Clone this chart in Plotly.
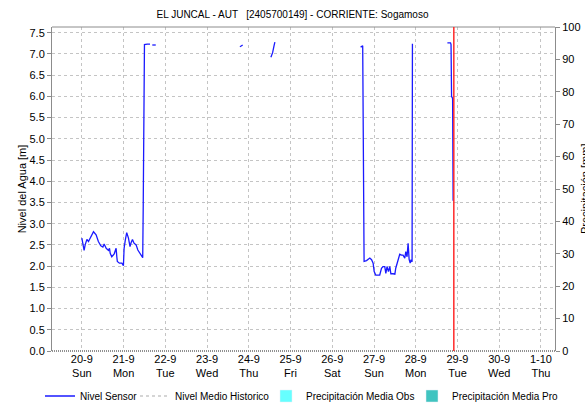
import plotly.graph_objects as go

# ---- data ----
sensor_time = [
    "2020-09-20 00:00", "2020-09-20 00:36", "2020-09-20 01:18", "2020-09-20 01:54",
    "2020-09-20 02:54", "2020-09-20 03:48", "2020-09-20 05:12", "2020-09-20 06:42",
    "2020-09-20 08:12", "2020-09-20 09:30", "2020-09-20 10:54", "2020-09-20 12:06",
    "2020-09-20 12:48", "2020-09-20 14:00", "2020-09-20 15:18", "2020-09-20 15:54",
    "2020-09-20 16:18", "2020-09-20 17:12", "2020-09-20 18:36", "2020-09-20 19:42",
    "2020-09-20 20:06", "2020-09-20 20:24", "2020-09-20 21:36", "2020-09-20 23:00",
    "2020-09-20 23:54", "2020-09-21 00:18", "2020-09-21 01:00", "2020-09-21 01:48",
    "2020-09-21 02:48", "2020-09-21 03:42", "2020-09-21 04:18", "2020-09-21 05:06",
    "2020-09-21 06:00", "2020-09-21 07:12", "2020-09-21 08:12", "2020-09-21 09:30",
    "2020-09-21 10:48", "2020-09-21 11:00", "2020-09-21 11:18", "2020-09-21 11:36",
    "2020-09-21 12:00", "2020-09-21 13:36", "2020-09-21 15:12", None,
    "2020-09-21 16:30", "2020-09-21 18:30", None,
    "2020-09-23 18:54", "2020-09-23 20:30", None,
    "2020-09-24 12:42", "2020-09-24 13:42", "2020-09-24 14:30", "2020-09-24 14:48",
    "2020-09-24 15:00", None,
    "2020-09-26 16:18", "2020-09-26 17:30", "2020-09-26 18:18", "2020-09-26 19:42",
    "2020-09-26 21:36", "2020-09-26 22:36", "2020-09-26 23:30", "2020-09-27 00:06",
    "2020-09-27 01:00", "2020-09-27 03:18", "2020-09-27 04:18", "2020-09-27 05:12",
    "2020-09-27 06:12", "2020-09-27 06:48", "2020-09-27 07:30", "2020-09-27 08:18",
    "2020-09-27 09:06", "2020-09-27 09:42", "2020-09-27 11:00", "2020-09-27 12:00",
    "2020-09-27 12:30", "2020-09-27 13:18", "2020-09-27 14:06", "2020-09-27 14:48",
    "2020-09-27 15:48", "2020-09-27 16:42", "2020-09-27 17:42", "2020-09-27 18:18",
    "2020-09-27 19:00", "2020-09-27 19:36", "2020-09-27 20:12", "2020-09-27 20:48",
    "2020-09-27 21:18", "2020-09-27 21:54", "2020-09-27 22:06", None,
    "2020-09-28 18:12", "2020-09-28 20:00", "2020-09-28 20:18", "2020-09-28 20:36",
    "2020-09-28 21:12", "2020-09-28 21:30",
]
sensor_level = [
    2.66, 2.54, 2.37, 2.50,
    2.63, 2.58, 2.70, 2.81,
    2.74, 2.58, 2.48, 2.45,
    2.52, 2.42, 2.37, 2.42,
    2.30, 2.22, 2.29, 2.42,
    2.22, 2.11, 2.07, 2.07,
    2.01, 2.42, 2.62, 2.79,
    2.66, 2.46, 2.55, 2.63,
    2.54, 2.50, 2.38, 2.30,
    2.22, 2.20, 3.44, 5.94,
    7.22, 7.23, 7.23, None,
    7.21, 7.21, None,
    7.17, 7.21, None,
    6.92, 7.03, 7.19, 7.28,
    7.28, None,
    7.16, 7.19, 2.11, 2.13,
    2.19, 2.15, 2.07, 1.87,
    1.79, 1.79, 1.95, 1.99,
    1.99, 1.83, 1.99, 1.87,
    1.99, 1.82, 1.82, 1.81,
    1.95, 2.07, 2.16, 2.28,
    2.26, 2.26, 2.19, 2.34,
    2.22, 2.54, 2.16, 2.07,
    2.15, 2.10, 7.24, None,
    7.26, 7.26, 7.22, 6.00,
    5.95, 3.54,
]
# series with no visible data in the reference (legend only)
historic_time = [None]
historic_level = [None]
precip_obs_time = [None]
precip_obs = [None]
precip_pro_time = [None]
precip_pro = [None]

now_time = "2020-09-28 21:54"

tick_dates = ["2020-09-20", "2020-09-21", "2020-09-22", "2020-09-23", "2020-09-24",
              "2020-09-25", "2020-09-26", "2020-09-27", "2020-09-28", "2020-09-29",
              "2020-09-30", "2020-10-01"]
tick_day = ["20-9", "21-9", "22-9", "23-9", "24-9", "25-9", "26-9", "27-9",
            "28-9", "29-9", "30-9", "1-10"]
tick_weekday = ["Sun", "Mon", "Tue", "Wed", "Thu", "Fri", "Sat", "Sun",
                "Mon", "Tue", "Wed", "Thu"]

title_text = "EL JUNCAL - AUT \u00a0 [2405700149] - CORRIENTE: Sogamoso"

FONT = "Liberation Sans, Arial, sans-serif"
GRID = "#c4c4c4"
AXIS = "#8c8c8c"

fig = go.Figure()

fig.add_trace(go.Scatter(
    x=sensor_time, y=sensor_level, mode="lines", name="Nivel Sensor",
    line=dict(color="#1a1aff", width=1.3), connectgaps=False, legendwidth=50,
))
fig.add_trace(go.Scatter(
    x=historic_time, y=historic_level, mode="lines", name="Nivel Medio Historico",
    line=dict(color="#c8c8c8", width=1.3, dash="3px,3px"), showlegend=True,
    legendwidth=86,
))
fig.add_trace(go.Bar(
    x=precip_obs_time, y=precip_obs, name="Precipitación Media Obs",
    marker=dict(color="#66ffff"), yaxis="y2", showlegend=True, legendwidth=101,
))
fig.add_trace(go.Bar(
    x=precip_pro_time, y=precip_pro, name="Precipitación Media Pro",
    marker=dict(color="#40c4c0"), yaxis="y2", showlegend=True, legendwidth=113,
))

fig.update_layout(
    width=585, height=405,
    margin=dict(l=52, r=30, t=27, b=54, autoexpand=False),
    paper_bgcolor="white", plot_bgcolor="white",
    font=dict(family=FONT, size=11, color="#000"),
    title=dict(text=title_text, x=0.5, xref="container", xanchor="center",
               y=1 - 14 / 405, yref="container", yanchor="middle",
               font=dict(family=FONT, size=10, color="#000")),
    showlegend=True,
    legend=dict(orientation="h", x=(40 - 52) / 503, xref="paper", xanchor="left",
                y=(351 - 396) / 324, yref="paper", yanchor="middle",
                font=dict(family=FONT, size=10), bgcolor="rgba(0,0,0,0)",
                tracegroupgap=0, itemwidth=30),
    xaxis=dict(
        type="date", range=["2020-09-19 06:50", "2020-10-01 08:05"],
        tickvals=tick_dates,
        ticktext=[d + "<br>" + w for d, w in zip(tick_day, tick_weekday)],
        showgrid=True, gridcolor=GRID, griddash="3px,3px", gridwidth=1,
        showline=False, zeroline=False, ticks="", ticklen=0,
        tickfont=dict(family=FONT, size=11), automargin=False,
    ),
    yaxis=dict(
        range=[0, 7.634], dtick=0.5, tick0=0, tickformat=".1f",
        showgrid=True, gridcolor=GRID, griddash="3px,3px", gridwidth=1,
        showline=True, linecolor=AXIS, linewidth=1, zeroline=False,
        ticks="outside", ticklen=4, tickcolor=AXIS, automargin=False,
        title=dict(text="Nivel del Agua [m]", standoff=0, font=dict(family=FONT, size=11)),
        tickfont=dict(family=FONT, size=11),
    ),
    yaxis2=dict(
        overlaying="y", side="right", range=[0, 100], dtick=10,
        showgrid=False, showline=True, linecolor=AXIS, linewidth=1, zeroline=False,
        ticks="outside", ticklen=4, tickcolor=AXIS, automargin=False,
        tickfont=dict(family=FONT, size=11),
    ),
    shapes=[
        dict(type="line", xref="paper", yref="paper", x0=0, x1=1, y0=1, y1=1,
             line=dict(color=AXIS, width=1)),
        dict(type="line", xref="paper", yref="paper", x0=0, x1=1, y0=0, y1=0,
             line=dict(color="#222", width=1, dash="1px,1px")),
        dict(type="line", xref="x", yref="paper", x0=now_time, x1=now_time, y0=0, y1=1,
             line=dict(color="#ff2a2a", width=1.5)),
    ],
    annotations=[
        dict(text="Precipitación [mm]", xref="paper", yref="paper", x=1, y=0.5,
             xshift=30, xanchor="center", yanchor="middle", textangle=-90,
             showarrow=False, font=dict(family=FONT, size=11)),
    ],
)

fig.write_html("out.html", config={"displayModeBar": False},
               post_script="document.body.style.margin='0';")
